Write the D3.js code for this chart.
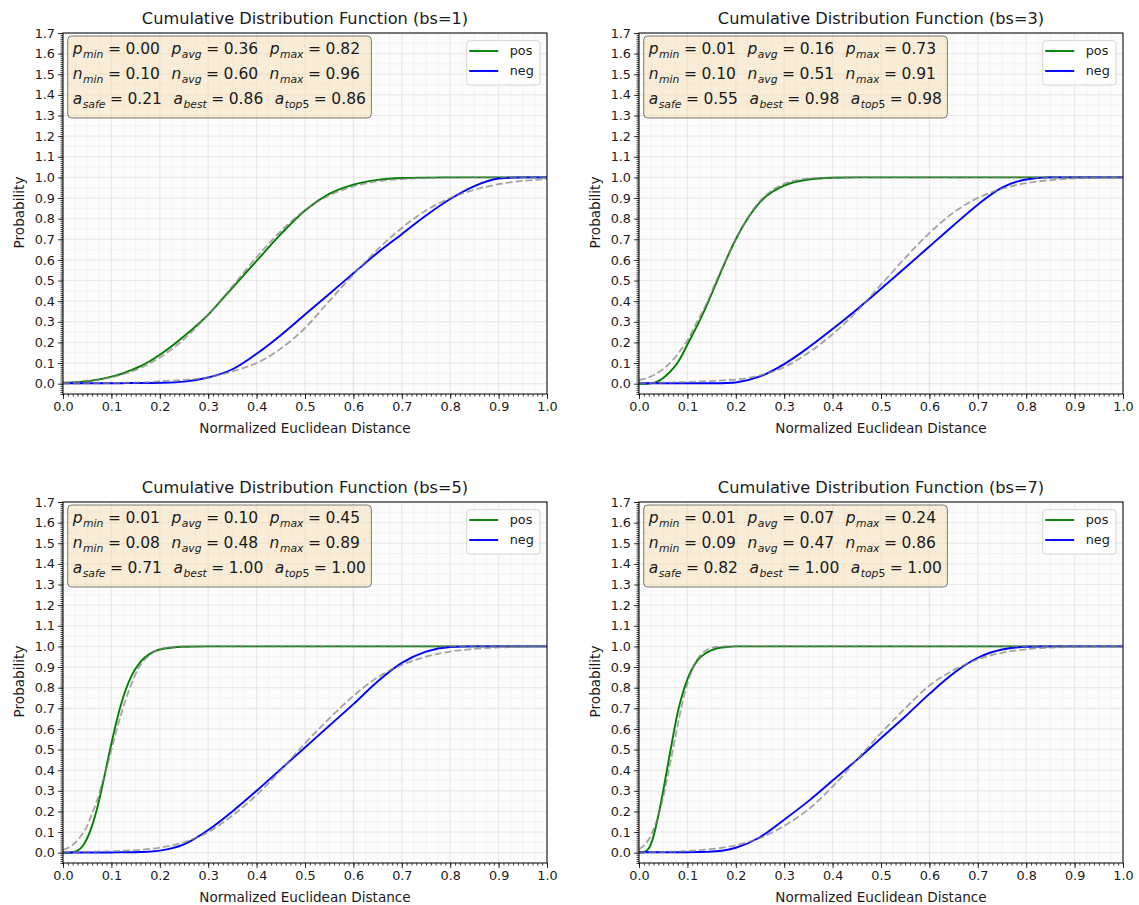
<!DOCTYPE html>
<html>
<head>
<meta charset="utf-8">
<script src="https://cdn.jsdelivr.net/npm/d3@7"></script>
<style>
  body { margin: 0; background: #fff; }
  svg text { font-family: "DejaVu Sans", sans-serif; fill: #1a1a1a; }
</style>
</head>
<body>
<div id="viz"></div>
<script>
// shared x grid (normalized euclidean distance) for all curves
var distances = [0, 0.01, 0.02, 0.03, 0.04, 0.05, 0.06, 0.07, 0.08, 0.09, 0.1,
                 0.12, 0.14, 0.16, 0.18, 0.2, 0.25, 0.3, 0.35, 0.4, 0.45, 0.5,
                 0.55, 0.6, 0.65, 0.7, 0.75, 0.8, 0.85, 0.9, 0.95, 1.0];

// bs=1
var posBs1    = [0.004, 0.005, 0.006, 0.008, 0.010, 0.012, 0.015, 0.019, 0.023, 0.028, 0.034,
                 0.047, 0.065, 0.085, 0.110, 0.140, 0.230, 0.335, 0.465, 0.595, 0.725, 0.840,
                 0.920, 0.965, 0.988, 0.997, 0.999, 1, 1, 1, 1, 1];
var posFitBs1 = [0.005, 0.006, 0.0075, 0.009, 0.011, 0.0135, 0.016, 0.019, 0.023, 0.027, 0.031,
                 0.044, 0.058, 0.076, 0.099, 0.127, 0.216, 0.334, 0.472, 0.613, 0.739, 0.841,
                 0.913, 0.957, 0.981, 0.992, 0.997, 0.999, 1, 1, 1, 1];
var negBs1    = [0.002, 0.002, 0.002, 0.002, 0.002, 0.002, 0.002, 0.002, 0.002, 0.002, 0.002,
                 0.002, 0.003, 0.003, 0.003, 0.004, 0.010, 0.030, 0.070, 0.145, 0.235, 0.335,
                 0.435, 0.535, 0.635, 0.725, 0.815, 0.895, 0.958, 0.995, 1, 1];
var negFitBs1 = [0.001, 0.001, 0.001, 0.001, 0.001, 0.002, 0.002, 0.002, 0.002, 0.003, 0.003,
                 0.004, 0.005, 0.006, 0.008, 0.012, 0.018, 0.030, 0.060, 0.100, 0.170, 0.270,
                 0.400, 0.530, 0.650, 0.755, 0.840, 0.900, 0.940, 0.967, 0.983, 0.992];

// bs=3
var posBs3    = [0, 0, 0.001, 0.004, 0.012, 0.028, 0.048, 0.073, 0.103, 0.143, 0.190,
                 0.280, 0.380, 0.490, 0.600, 0.700, 0.880, 0.960, 0.990, 0.998, 1, 1,
                 1, 1, 1, 1, 1, 1, 1, 1, 1, 1];
var posFitBs3 = [0.017, 0.023, 0.031, 0.041, 0.055, 0.071, 0.091, 0.115, 0.143, 0.175, 0.210,
                 0.300, 0.390, 0.500, 0.600, 0.700, 0.885, 0.969, 0.994, 0.999, 1, 1,
                 1, 1, 1, 1, 1, 1, 1, 1, 1, 1];
var negBs3    = [0.002, 0.002, 0.002, 0.002, 0.002, 0.002, 0.002, 0.002, 0.002, 0.002, 0.002,
                 0.002, 0.002, 0.002, 0.003, 0.006, 0.035, 0.095, 0.175, 0.265, 0.360, 0.460,
                 0.562, 0.665, 0.768, 0.868, 0.950, 0.990, 1, 1, 1, 1];
var negFitBs3 = [0.003, 0.003, 0.003, 0.004, 0.004, 0.005, 0.005, 0.006, 0.007, 0.007, 0.008,
                 0.010, 0.012, 0.014, 0.017, 0.020, 0.040, 0.080, 0.150, 0.240, 0.350, 0.480,
                 0.610, 0.730, 0.830, 0.900, 0.945, 0.972, 0.987, 0.995, 0.998, 1];

// bs=5
var posBs5    = [0, 0, 0.002, 0.010, 0.030, 0.070, 0.130, 0.210, 0.310, 0.420, 0.530,
                 0.720, 0.850, 0.925, 0.965, 0.985, 0.998, 1, 1, 1, 1, 1,
                 1, 1, 1, 1, 1, 1, 1, 1, 1, 1];
var posFitBs5 = [0.013, 0.023, 0.038, 0.060, 0.090, 0.130, 0.190, 0.250, 0.330, 0.410, 0.500,
                 0.670, 0.810, 0.910, 0.960, 0.987, 0.9996, 1, 1, 1, 1, 1,
                 1, 1, 1, 1, 1, 1, 1, 1, 1, 1];
var negBs5    = [0.001, 0.001, 0.001, 0.001, 0.001, 0.001, 0.001, 0.001, 0.001, 0.001, 0.001,
                 0.002, 0.002, 0.003, 0.005, 0.010, 0.040, 0.110, 0.200, 0.300, 0.405, 0.510,
                 0.615, 0.720, 0.830, 0.920, 0.975, 0.997, 1, 1, 1, 1];
var negFitBs5 = [0.002, 0.002, 0.003, 0.003, 0.003, 0.004, 0.004, 0.005, 0.006, 0.006, 0.007,
                 0.009, 0.011, 0.014, 0.018, 0.025, 0.050, 0.100, 0.180, 0.280, 0.400, 0.530,
                 0.650, 0.760, 0.850, 0.910, 0.950, 0.975, 0.988, 0.995, 0.998, 1];

// bs=7
var posBs7    = [0, 0.002, 0.020, 0.080, 0.180, 0.300, 0.430, 0.560, 0.680, 0.770, 0.840,
                 0.930, 0.970, 0.990, 0.997, 1, 1, 1, 1, 1, 1, 1,
                 1, 1, 1, 1, 1, 1, 1, 1, 1, 1];
var posFitBs7 = [0.017, 0.034, 0.064, 0.113, 0.180, 0.270, 0.380, 0.500, 0.620, 0.730, 0.820,
                 0.935, 0.983, 0.997, 0.9995, 1, 1, 1, 1, 1, 1, 1,
                 1, 1, 1, 1, 1, 1, 1, 1, 1, 1];
var negBs7    = [0.002, 0.002, 0.002, 0.002, 0.002, 0.002, 0.002, 0.002, 0.002, 0.002, 0.002,
                 0.003, 0.004, 0.007, 0.013, 0.024, 0.075, 0.160, 0.250, 0.350, 0.450, 0.555,
                 0.660, 0.770, 0.870, 0.945, 0.985, 0.998, 1, 1, 1, 1];
var negFitBs7 = [0.001, 0.001, 0.001, 0.002, 0.002, 0.003, 0.004, 0.005, 0.006, 0.007, 0.008,
                 0.011, 0.015, 0.020, 0.027, 0.036, 0.071, 0.130, 0.210, 0.320, 0.450, 0.580,
                 0.700, 0.810, 0.885, 0.937, 0.969, 0.986, 0.994, 0.998, 0.999, 1];

var batchSizes = [1, 3, 5, 7];
var posCurves = [posBs1, posBs3, posBs5, posBs7];
var posFits   = [posFitBs1, posFitBs3, posFitBs5, posFitBs7];
var negCurves = [negBs1, negBs3, negBs5, negBs7];
var negFits   = [negFitBs1, negFitBs3, negFitBs5, negFitBs7];

// stats shown in the text boxes: [min, avg, max] and [safe, best, top5]
var pStats = [[0.00, 0.36, 0.82], [0.01, 0.16, 0.73], [0.01, 0.10, 0.45], [0.01, 0.07, 0.24]];
var nStats = [[0.10, 0.60, 0.96], [0.10, 0.51, 0.91], [0.08, 0.48, 0.89], [0.09, 0.47, 0.86]];
var aStats = [[0.21, 0.86, 0.86], [0.55, 0.98, 0.98], [0.71, 1.00, 1.00], [0.82, 1.00, 1.00]];

var xTickValues = [0, 0.1, 0.2, 0.3, 0.4, 0.5, 0.6, 0.7, 0.8, 0.9, 1.0];
var yTickValues = [0, 0.1, 0.2, 0.3, 0.4, 0.5, 0.6, 0.7, 0.8, 0.9, 1.0,
                   1.1, 1.2, 1.3, 1.4, 1.5, 1.6, 1.7];

var svg = d3.select("div#viz")
            .append("svg")
            .attr("width", 1139)
            .attr("height", 905);

var panelW = 484,
    panelH = 361,
    origins = [[63, 33], [639, 33], [63, 502], [639, 502]];

var fmt = d3.format(".2f");

function drawPanel(i) {
    var ox = origins[i][0], oy = origins[i][1];
    var g = svg.append("g").attr("transform", "translate(" + ox + "," + oy + ")");

    var x = d3.scaleLinear().domain([0, 1]).range([0, panelW]);
    var y = d3.scaleLinear().domain([-0.05, 1.7]).range([panelH, 0]);

    g.append("rect")
     .attr("width", panelW).attr("height", panelH)
     .attr("fill", "#fcfcfc");

    // minor grid
    var xMinorGrid = d3.range(0, 1.0001, 0.025),
        yMinorGrid = d3.range(0, 1.7001, 0.05);
    g.append("g").selectAll("line").data(xMinorGrid).enter().append("line")
     .attr("x1", function(d) { return x(d); }).attr("x2", function(d) { return x(d); })
     .attr("y1", 0).attr("y2", panelH)
     .attr("stroke", "#f0f0f0").attr("stroke-width", 0.8);
    g.append("g").selectAll("line").data(yMinorGrid).enter().append("line")
     .attr("y1", function(d) { return y(d); }).attr("y2", function(d) { return y(d); })
     .attr("x1", 0).attr("x2", panelW)
     .attr("stroke", "#f0f0f0").attr("stroke-width", 0.8);

    // major grid
    g.append("g").selectAll("line").data(xTickValues).enter().append("line")
     .attr("x1", function(d) { return x(d); }).attr("x2", function(d) { return x(d); })
     .attr("y1", 0).attr("y2", panelH)
     .attr("stroke", "#e4e4e4").attr("stroke-width", 0.8);
    g.append("g").selectAll("line").data(yTickValues).enter().append("line")
     .attr("y1", function(d) { return y(d); }).attr("y2", function(d) { return y(d); })
     .attr("x1", 0).attr("x2", panelW)
     .attr("stroke", "#e4e4e4").attr("stroke-width", 0.8);

    // clip for curves
    var clipId = "clip" + i;
    g.append("clipPath").attr("id", clipId)
     .append("rect").attr("width", panelW).attr("height", panelH);

    var line = d3.line()
                 .x(function(d, k) { return x(distances[k]); })
                 .y(function(d) { return y(d); })
                 .curve(d3.curveMonotoneX);

    var curves = g.append("g").attr("clip-path", "url(#" + clipId + ")");
    curves.append("path").attr("d", line(posCurves[i]))
          .attr("fill", "none").attr("stroke", "#008000").attr("stroke-width", 1.9);
    curves.append("path").attr("d", line(negCurves[i]))
          .attr("fill", "none").attr("stroke", "#0000ff").attr("stroke-width", 1.9);
    [posFits[i], negFits[i]].forEach(function(fit) {
        curves.append("path").attr("d", line(fit))
              .attr("fill", "none").attr("stroke", "#808080")
              .attr("stroke-opacity", 0.7)
              .attr("stroke-width", 1.8)
              .attr("stroke-dasharray", "7,3");
    });

    // axes
    var xAxis = d3.axisBottom(x).tickValues(xTickValues)
                  .tickFormat(d3.format(".1f")).tickSize(5).tickPadding(3);
    var xMinor = d3.axisBottom(x).tickValues(d3.range(0, 1.0001, 0.01))
                   .tickFormat("").tickSize(2.5);
    var yAxis = d3.axisLeft(y).tickValues(yTickValues)
                  .tickFormat(d3.format(".1f")).tickSize(5).tickPadding(3);
    var yMinor = d3.axisLeft(y).tickValues(d3.range(-0.05, 1.7001, 0.01))
                   .tickFormat("").tickSize(2.5);

    [[xMinor, "x"], [xAxis, "x"], [yMinor, "y"], [yAxis, "y"]].forEach(function(a) {
        var ag = g.append("g");
        if (a[1] === "x") ag.attr("transform", "translate(0," + panelH + ")");
        ag.call(a[0]);
        ag.select(".domain").remove();
        ag.selectAll(".tick line").attr("stroke", "#000").attr("stroke-width", 0.8);
        ag.selectAll(".tick text")
          .attr("font-family", "DejaVu Sans")
          .attr("font-size", "12.8px")
          .attr("fill", "#1a1a1a");
    });

    // spines
    g.append("rect")
     .attr("width", panelW).attr("height", panelH)
     .attr("fill", "none").attr("stroke", "#000").attr("stroke-width", 1);

    // title and axis labels
    g.append("text")
     .attr("x", panelW / 2).attr("y", -9.5)
     .attr("text-anchor", "middle")
     .attr("font-size", "16.2px")
     .text("Cumulative Distribution Function (bs=" + batchSizes[i] + ")");
    g.append("text")
     .attr("x", panelW / 2).attr("y", panelH + 38.5)
     .attr("text-anchor", "middle")
     .attr("font-size", "13.6px")
     .text("Normalized Euclidean Distance");
    g.append("text")
     .attr("transform", "translate(-44," + (panelH / 2 - 1) + ") rotate(-90)")
     .attr("text-anchor", "middle")
     .attr("dy", "0.35em")
     .attr("font-size", "13.6px")
     .text("Probability");

    // stats text box
    var rows = [
        [["p", "min", pStats[i][0]], ["p", "avg", pStats[i][1]], ["p", "max", pStats[i][2]]],
        [["n", "min", nStats[i][0]], ["n", "avg", nStats[i][1]], ["n", "max", nStats[i][2]]],
        [["a", "safe", aStats[i][0]], ["a", "best", aStats[i][1]], ["a", "top5", aStats[i][2]]]
    ];
    var boxG = g.append("g");
    var boxRect = boxG.append("rect");
    var textG = boxG.append("g");
    rows.forEach(function(row, r) {
        var t = textG.append("text")
                     .attr("x", 9.7).attr("y", 21 + r * 25.2)
                     .attr("font-size", "15.5px");
        row.forEach(function(term, j) {
            t.append("tspan").attr("font-style", "italic")
             .attr("dx", j === 0 ? 0 : 11.5).text(term[0]);
            var sub = term[1];
            var subText = sub.replace(/[0-9]/g, "");
            var subDigits = sub.replace(/[^0-9]/g, "");
            t.append("tspan").attr("font-style", "italic").attr("font-size", "10.8px")
             .attr("dy", 3.6).attr("dx", 0.5).text(subText);
            if (subDigits) {
                t.append("tspan").attr("font-size", "10.8px").text(subDigits);
            }
            t.append("tspan").attr("dy", -3.6).attr("dx", 4.5).text("=");
            t.append("tspan").attr("dx", 4.5).text(fmt(term[2]));
        });
    });
    var bb = textG.node().getBBox();
    boxRect.attr("x", 4.7).attr("y", 3)
           .attr("width", bb.x + bb.width + 5.5 - 4.7)
           .attr("height", 82)
           .attr("rx", 4).attr("ry", 4)
           .attr("fill", "#f5deb3").attr("fill-opacity", 0.5)
           .attr("stroke", "#000").attr("stroke-opacity", 0.5)
           .attr("stroke-width", 1);

    // legend
    var lg = g.append("g").attr("transform", "translate(" + (panelW - 80.3) + ",7.7)");
    lg.append("rect")
      .attr("width", 73.3).attr("height", 44.3)
      .attr("rx", 3).attr("ry", 3)
      .attr("fill", "#fff").attr("fill-opacity", 0.8)
      .attr("stroke", "#d5d5d5").attr("stroke-width", 1);
    [["pos", "#008000"], ["neg", "#0000ff"]].forEach(function(item, k) {
        var ly = 10.3 + k * 20;
        lg.append("line")
          .attr("x1", 2.5).attr("x2", 31.5)
          .attr("y1", ly).attr("y2", ly)
          .attr("stroke", item[1]).attr("stroke-width", 1.9);
        lg.append("text")
          .attr("x", 43).attr("y", ly).attr("dy", "0.35em")
          .attr("font-size", "12.8px")
          .text(item[0]);
    });
}

for (var i = 0; i < 4; i++) {
    drawPanel(i);
}
</script>
</body>
</html>
